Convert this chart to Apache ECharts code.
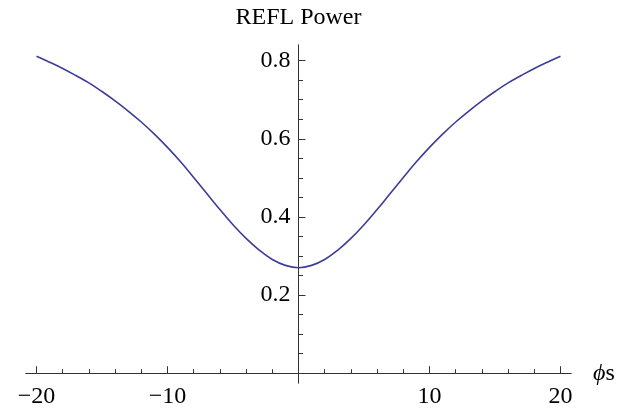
<!DOCTYPE html>
<html>
<head>
<meta charset="utf-8">
<script src="https://cdn.jsdelivr.net/npm/echarts@6/dist/echarts.min.js"></script>
<style>
  html, body { margin: 0; padding: 0; background: #fff; }
  #chart { width: 623px; height: 412px; }
</style>
</head>
<body>
<div id="chart"></div>
<script>
// Reflected power versus phase ϕs
const phiS = [-20, -19, -18, -17, -16, -15, -14, -13, -12, -11, -10, -9, -8, -7, -6, -5, -4, -3, -2, -1,
              0, 1, 2, 3, 4, 5, 6, 7, 8, 9, 10, 11, 12, 13, 14, 15, 16, 17, 18, 19, 20];
const reflPower = [0.811, 0.796, 0.780, 0.762, 0.743, 0.721, 0.697, 0.671, 0.643, 0.612,
                   0.578, 0.541, 0.501, 0.460, 0.419, 0.380, 0.345, 0.315, 0.291, 0.276,
                   0.270,
                   0.276, 0.291, 0.315, 0.345, 0.380, 0.419, 0.460, 0.501, 0.541, 0.578,
                   0.612, 0.643, 0.671, 0.697, 0.721, 0.743, 0.762, 0.780, 0.796, 0.811];

// Tick positions
const xMajorTicks = [-20, -10, 0, 10, 20];
const xLabels = [-20, -10, 10, 20];
const xMinorTicks = [-18, -16, -14, -12, -8, -6, -4, -2, 2, 4, 6, 8, 12, 14, 16, 18];
const yMajorTicks = [0.2, 0.4, 0.6, 0.8];
const yLabels = [0.2, 0.4, 0.6, 0.8];
const yMinorTicks = [0.05, 0.1, 0.15, 0.25, 0.3, 0.35, 0.45, 0.5, 0.55, 0.65, 0.7, 0.75];

const FONT = '"Liberation Serif", "DejaVu Serif", serif';
const AXIS_COLOR = '#333';
const X_RANGE = [-20.8, 20.8];
const Y_RANGE = [-0.025, 0.84];
const X_LABEL_GAP = 11;   // gap between x axis line and its labels
const Y_LABEL_GAP = 8;    // gap between y axis line and its labels

const chart = echarts.init(document.getElementById('chart'), null, { renderer: 'canvas' });

const xBase = {
  type: 'value', min: X_RANGE[0], max: X_RANGE[1],
  splitLine: { show: false },
  axisLine: { show: true, lineStyle: { color: AXIS_COLOR, width: 1 } }
};
const yBase = {
  type: 'value', min: Y_RANGE[0], max: Y_RANGE[1],
  splitLine: { show: false },
  axisLine: { show: true, lineStyle: { color: AXIS_COLOR, width: 1 } }
};

chart.setOption({
  animation: false,
  backgroundColor: '#fff',
  grid: { left: 26, right: 52, top: 45, bottom: 29, containLabel: false, outerBoundsMode: 'none' },
  xAxis: [
    Object.assign({}, xBase, {
      name: '{i|ϕ}s',
      nameLocation: 'end',
      nameGap: 22,
      nameTextStyle: {
        fontFamily: FONT, fontSize: 24, color: '#000',
        rich: { i: { fontFamily: FONT, fontSize: 24, fontStyle: 'italic', color: '#000' } }
      },
      axisLine: { show: true, onZero: true, onZeroAxisIndex: 0, lineStyle: { color: AXIS_COLOR, width: 1 } },
      axisTick: { show: true, inside: true, length: 7, customValues: xMajorTicks, lineStyle: { color: AXIS_COLOR } },
      axisLabel: {
        show: true, margin: X_LABEL_GAP, customValues: xLabels,
        fontFamily: FONT, fontSize: 24, color: '#000',
        formatter: v => (v < 0 ? '\u2212' + Math.abs(v) : String(v))
      }
    }),
    Object.assign({}, xBase, {
      position: 'bottom',
      axisLine: { show: true, onZero: true, onZeroAxisIndex: 1, lineStyle: { color: AXIS_COLOR, width: 1 } },
      axisTick: { show: true, inside: true, length: 4, customValues: xMinorTicks, lineStyle: { color: AXIS_COLOR } },
      axisLabel: { show: false }
    })
  ],
  yAxis: [
    Object.assign({}, yBase, {
      name: 'REFL Power',
      nameLocation: 'end',
      nameGap: 15,
      nameTextStyle: { fontFamily: FONT, fontSize: 24, color: '#000', align: 'center' },
      axisLine: { show: true, onZero: true, onZeroAxisIndex: 0, lineStyle: { color: AXIS_COLOR, width: 1 } },
      axisTick: { show: true, inside: true, length: 7, customValues: yMajorTicks, lineStyle: { color: AXIS_COLOR } },
      axisLabel: {
        show: true, margin: Y_LABEL_GAP, customValues: yLabels,
        fontFamily: FONT, fontSize: 24, color: '#000',
        formatter: v => v.toFixed(1)
      }
    }),
    Object.assign({}, yBase, {
      position: 'left',
      axisLine: { show: true, onZero: true, onZeroAxisIndex: 1, lineStyle: { color: AXIS_COLOR, width: 1 } },
      axisTick: { show: true, inside: true, length: 4.5, customValues: yMinorTicks, lineStyle: { color: AXIS_COLOR } },
      axisLabel: { show: false }
    })
  ],
  series: [{
    type: 'line',
    xAxisIndex: 0,
    yAxisIndex: 0,
    data: phiS.map((x, i) => [x, reflPower[i]]),
    smooth: 0.4,
    showSymbol: false,
    lineStyle: { color: '#3d3d99', width: 1.6 }
  }]
});

// Axis labels are laid out from the grid edge; pull them in so they sit
// next to the axis lines that cross at the origin.
const xZeroPx = chart.convertToPixel({ xAxisIndex: 0 }, 0);
const xLeftPx = chart.convertToPixel({ xAxisIndex: 0 }, X_RANGE[0]);
const yZeroPx = chart.convertToPixel({ yAxisIndex: 0 }, 0);
const yBottomPx = chart.convertToPixel({ yAxisIndex: 0 }, Y_RANGE[0]);
chart.setOption({
  xAxis: [{ axisLabel: { margin: X_LABEL_GAP - (yBottomPx - yZeroPx) } }],
  yAxis: [{ axisLabel: { margin: Y_LABEL_GAP - (xZeroPx - xLeftPx) } }]
});
</script>
</body>
</html>
